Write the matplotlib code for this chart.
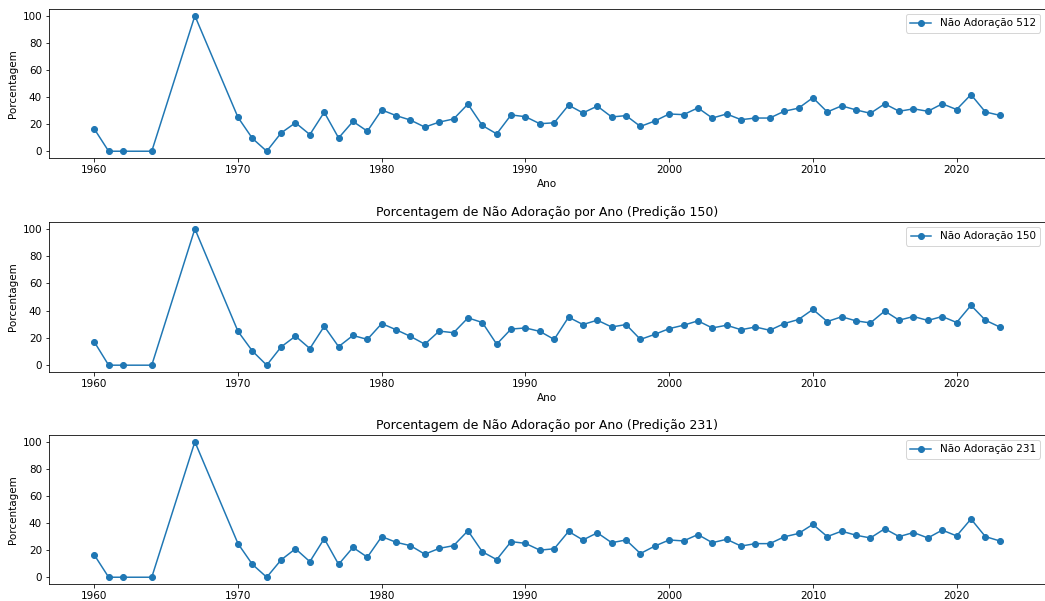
import numpy as np
import matplotlib
matplotlib.use("Agg")
from matplotlib import pyplot as plt

plt.rcParams['font.size'] = 10.4

#%% data
anos = [1960, 1961, 1962, 1964, 1967] + list(range(1970, 2024))

pred_512 = [16.5, 0, 0, 0, 100,
            25.0, 9.5, 0, 13.5, 21.0, 12.3, 28.8, 9.8, 22.0, 14.8,
            30.5, 26.3, 23.0, 17.8, 21.5, 23.8, 34.8, 19.0, 12.8, 26.8,
            25.5, 20.3, 21.0, 34.0, 28.3, 33.3, 25.3, 26.3, 18.3, 22.3,
            27.5, 27.0, 32.0, 24.5, 27.5, 23.3, 24.5, 24.5, 29.5, 31.8,
            39.5, 29.0, 33.5, 30.5, 28.0, 35.0, 29.5, 31.3, 29.5, 35.0,
            30.8, 41.8, 29.0, 26.5]

pred_150 = [17.1, 0, 0, 0, 100,
            24.8, 10.4, 0, 13.4, 21.3, 12.2, 28.5, 13.6, 21.8, 18.9,
            30.5, 26.0, 21.1, 15.4, 25.0, 23.8, 34.7, 31.3, 15.4, 26.5,
            27.3, 24.8, 18.9, 35.2, 29.8, 33.0, 28.0, 29.8, 18.9, 22.6,
            26.8, 29.3, 32.5, 27.3, 29.3, 26.0, 28.0, 25.6, 30.5, 33.5,
            40.9, 32.0, 35.5, 32.5, 31.0, 39.7, 33.0, 35.7, 32.8, 35.7,
            31.3, 43.9, 33.0, 28.0]

pred_231 = [16.5, 0, 0, 0, 100,
            24.8, 9.5, 0, 12.8, 21.0, 11.5, 28.5, 9.5, 22.0, 14.8,
            30.0, 25.8, 23.3, 17.0, 21.3, 23.3, 34.3, 18.8, 13.0, 26.3,
            25.0, 20.0, 21.0, 33.8, 27.5, 32.8, 25.5, 27.5, 17.5, 23.0,
            27.5, 26.8, 31.5, 25.5, 28.0, 23.0, 24.8, 24.8, 29.8, 32.3,
            39.0, 30.0, 34.0, 31.0, 29.0, 35.8, 30.0, 33.0, 29.0, 34.8,
            30.5, 43.0, 30.0, 26.8]

predicoes = [512, 150, 231]
series = [pred_512, pred_150, pred_231]

#%% plot
W, H = 1045, 601
f = plt.figure(figsize=(W / 72, H / 72), dpi=72)

# axes boxes in pixels (left, top, right, bottom)
caixas = [(49, 9, 1045, 158), (49, 222, 1045, 372), (49, 435, 1045, 584)]

for i, (pred, vals) in enumerate(zip(predicoes, series)):
    l, t, r, b = caixas[i]
    ax = f.add_axes([l / W, 1 - b / H, (r - l) / W, (b - t) / H])
    ax.plot(anos, vals, marker='o', color='#1f77b4', label='Não Adoração ' + str(pred))
    ax.set_yticks([0, 20, 40, 60, 80, 100])
    ax.set_ylabel('Porcentagem')
    if i > 0:
        ax.set_title('Porcentagem de Não Adoração por Ano (Predição ' + str(pred) + ')')
    if i < 2:
        ax.set_xlabel('Ano')
    ax.legend(loc='upper right')

f.savefig('out.png', dpi=72)
